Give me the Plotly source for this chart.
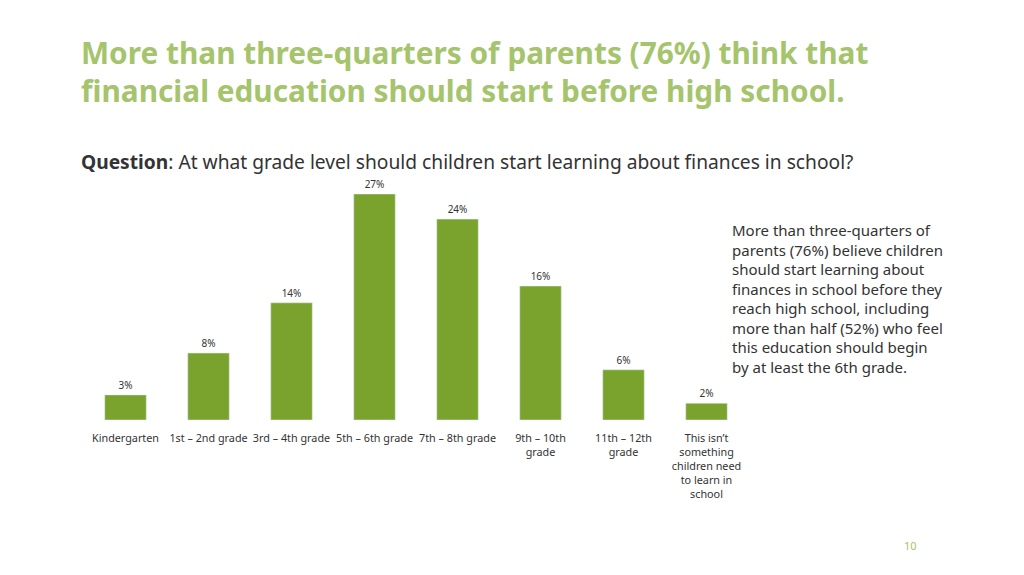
import plotly.graph_objects as go

categories = ["Kindergarten", "1st – 2nd grade", "3rd – 4th grade", "5th – 6th grade",
              "7th – 8th grade", "9th – 10th<br>grade", "11th – 12th<br>grade",
              "This isn’t<br>something<br>children need<br>to learn in<br>school"]
values = [3, 8, 14, 27, 24, 16, 6, 2]
labels = [f"{v}%" for v in values]

W, H = 1024, 575
O = 8  # page offset
fig = go.Figure(go.Bar(
    x=categories, y=values, text=labels, textposition="outside",
    textfont=dict(size=10, color="#333333", family="Noto Sans"),
    marker=dict(color="#7aa32e"), width=0.5, cliponaxis=False))

fig.update_layout(
    width=W, height=H, margin=dict(l=0, r=0, t=0, b=0),
    paper_bgcolor="white", plot_bgcolor="white", showlegend=False,
    font=dict(family="Noto Sans", color="#333333"),
    xaxis=dict(domain=[(84-O)/W, (748-O)/W], showline=False, ticks="outside", ticklen=8,
               tickcolor="rgba(0,0,0,0)", tickfont=dict(size=10.8),
               tickangle=0, showgrid=False),
    yaxis=dict(domain=[(H-420+O)/H, (H-194+O)/H], range=[0, 27], visible=False),
    annotations=[
        dict(x=(79-O)/W, y=1-(53-O)/H, xref="paper", yref="paper", xanchor="left", yanchor="middle",
             showarrow=False, align="left",
             text="<b>More than three-quarters of parents (76%) think that</b>",
             font=dict(size=29.8, color="#a5c46c", family="Noto Sans")),
        dict(x=(79-O)/W, y=1-(90-O)/H, xref="paper", yref="paper", xanchor="left", yanchor="middle",
             showarrow=False, align="left",
             text="<b>financial education should start before high school.</b>",
             font=dict(size=29.8, color="#a5c46c", family="Noto Sans")),
        dict(x=(79-O)/W, y=1-(162-O)/H, xref="paper", yref="paper", xanchor="left", yanchor="middle",
             showarrow=False,
             text="<b>Question</b>: At what grade level should children start learning about finances in school?",
             font=dict(size=19.2, color="#333333")),
        dict(x=(730-O)/W, y=1-(218-O)/H, xref="paper", yref="paper", xanchor="left", yanchor="top",
             showarrow=False, align="left",
             text="More than three-quarters of<br>parents (76%) believe children<br>should start learning about<br>finances in school before they<br>reach high school, including<br>more than half (52%) who feel<br>this education should begin<br>by at least the 6th grade.",
             font=dict(size=15, color="#333333")),
        dict(x=(910-O)/W, y=1-(545-O)/H, xref="paper", yref="paper", xanchor="center", yanchor="middle",
             showarrow=False, text="10", font=dict(size=11, color="#a5c46c")),
    ])
fig.write_html("out.html")
